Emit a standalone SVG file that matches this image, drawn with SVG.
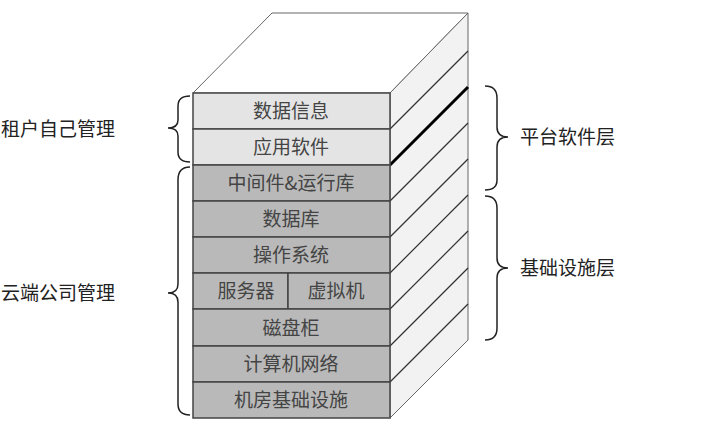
<svg xmlns="http://www.w3.org/2000/svg" width="702" height="429" viewBox="0 0 702 429">
<style>
.t{font-family:"Noto Sans CJK SC","Liberation Serif",serif;font-size:19px;fill:#444;text-anchor:middle}
.l{font-family:"Noto Sans CJK SC","Liberation Serif",serif;font-size:19px;fill:#222}
.a{fill:#e4e4e4;stroke:#444;stroke-width:1.5}
.b{fill:#b9b9b9;stroke:#444;stroke-width:1.5}
.s{fill:none;stroke:#333;stroke-width:1.2}
.br{fill:none;stroke:#222;stroke-width:1.5}
</style>
<rect width="702" height="429" fill="#fff"/>
<g id="box">
<polygon points="193,93 272,13 468,13 390,93" fill="#fff" stroke="#666" stroke-width="1"/>
<polygon points="390,93 468,13 468,340 390,418" fill="#f2f2f2" stroke="#666" stroke-width="1"/>
</g>
<g id="connectors">
<line class="s" x1="390" y1="129" x2="468" y2="51"/>
<line x1="390" y1="165" x2="468" y2="87" stroke="#000" stroke-width="3"/>
<line class="s" x1="390" y1="201" x2="468" y2="123"/>
<line class="s" x1="390" y1="237" x2="468" y2="159"/>
<line class="s" x1="390" y1="273" x2="468" y2="195"/>
<line class="s" x1="390" y1="309" x2="468" y2="231"/>
<line class="s" x1="390" y1="346" x2="468" y2="268"/>
<line class="s" x1="390" y1="382" x2="468" y2="304"/>
<path class="br" d="M190,96 Q178,96 178,106 L178,120 Q178,128 168,128 Q178,128 178,136 L178,152 Q178,162 190,162"/>
<path class="br" d="M190,167 Q178,167 178,180 L178,284 Q178,293 168,293 Q178,293 178,302 L178,404 Q178,415 190,415"/>
<path class="br" d="M485,86 Q497,86 497,98 L497,127 Q497,137 508,137 Q497,137 497,147 L497,180 Q497,190 485,190"/>
<path class="br" d="M485,196 Q497,196 497,208 L497,258 Q497,268 508,268 Q497,268 497,278 L497,328 Q497,340 485,340"/>
</g>
<g id="layer1"><rect class="a" x="193" y="93" width="197" height="36"/><text class="t" x="291" y="118">数据信息</text></g>
<g id="layer2"><rect class="a" x="193" y="129" width="197" height="36"/><text class="t" x="291" y="154">应用软件</text></g>
<g id="layer3"><rect class="b" x="193" y="165" width="197" height="36"/><text class="t" x="291" y="190">中间件&amp;运行库</text></g>
<g id="layer4"><rect class="b" x="193" y="201" width="197" height="36"/><text class="t" x="291" y="226">数据库</text></g>
<g id="layer5"><rect class="b" x="193" y="237" width="197" height="36"/><text class="t" x="291" y="262">操作系统</text></g>
<g id="layer6"><rect class="b" x="193" y="273" width="95" height="36"/><text class="t" x="246" y="298">服务器</text></g>
<g id="layer6b"><rect class="b" x="288" y="273" width="102" height="36"/><text class="t" x="336" y="298">虚拟机</text></g>
<g id="layer7"><rect class="b" x="193" y="309" width="197" height="37"/><text class="t" x="291" y="335">磁盘柜</text></g>
<g id="layer8"><rect class="b" x="193" y="346" width="197" height="36"/><text class="t" x="291" y="371">计算机网络</text></g>
<g id="layer9"><rect class="b" x="193" y="382" width="197" height="36"/><text class="t" x="291" y="407">机房基础设施</text></g>
<g id="labels">
<text class="l" x="1" y="136">租户自己管理</text>
<text class="l" x="1" y="300">云端公司管理</text>
<text class="l" x="520" y="144">平台软件层</text>
<text class="l" x="520" y="275">基础设施层</text>
</g>
</svg>
